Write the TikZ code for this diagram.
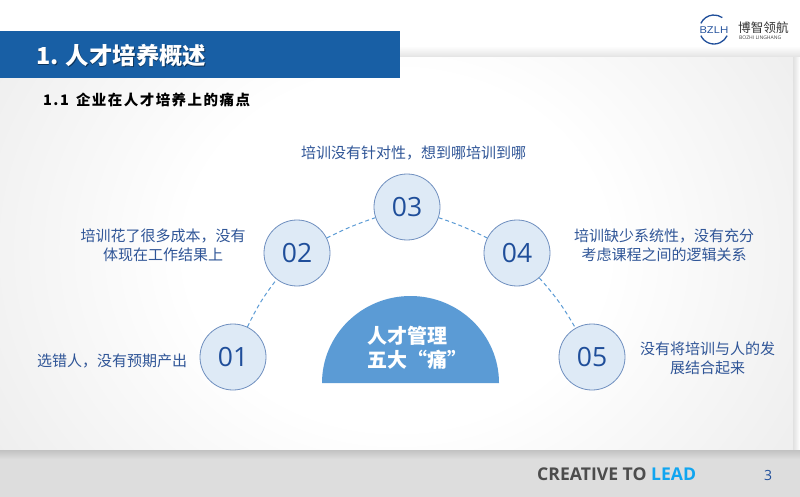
\documentclass[tikz,border=0pt]{standalone}
\usepackage{fontspec}
\setmainfont{Open Sans}
\newfontfamily\cjk{Noto Sans CJK SC}
\newfontfamily\cjkwide[LetterSpace=10]{Noto Sans CJK SC}
\definecolor{bar-blue}{HTML}{185FA5}
\definecolor{dome-blue}{HTML}{5B9BD5}
\definecolor{circle-fill}{HTML}{DEEAF6}
\definecolor{circle-line}{HTML}{6F8FBF}
\definecolor{num-blue}{HTML}{1F4E9A}
\definecolor{text-blue}{HTML}{2F5597}
\definecolor{lead-blue}{HTML}{10A5F0}
\definecolor{foot-gray}{HTML}{DDDDDD}
\pgfdeclareradialshading{panel-glow}{\pgfpointorigin}{color(0bp)=(white); color(12bp)=(white); color(34bp)=(black!10); color(50bp)=(black!12)}
\tikzset{
    num-circle/.style = {draw=circle-line, fill=circle-fill, circle, thick, minimum size=66pt, inner sep=0pt, text=num-blue, font=\fontsize{26.5}{26.5}\selectfont},
    pain-text/.style = {text=text-blue, align=center, inner sep=0pt, font=\cjk\fontsize{15}{19.5}\selectfont},
    arc-link/.style = {draw=dome-blue, line width=1pt, dash pattern=on 4pt off 3pt},
    logo-arc/.style = {draw=num-blue, line width=1.3pt},
}

\begin{document}
\begin{tikzpicture}[x=1pt,y=-1pt]
\useasboundingbox (0,0) rectangle (800,497);
\fill[white] (0,0) rectangle (800,497);
\shade[top color=white, bottom color=black!12] (0,46) rectangle (800,58);
\shade[left color=black!12, right color=white] (793,58) rectangle (800,450);
\begin{scope}
\clip (0,58) rectangle (793,450);
\shade[shading=panel-glow] (-40,-120) rectangle (833,620);
\end{scope}
\fill[foot-gray] (0,450) rectangle (800,497);
\shade[top color=black!24, bottom color=foot-gray] (0,450) rectangle (800,459);

\fill[bar-blue] (0,31) rectangle (400,78);
\node[anchor=west, text=black!45!bar-blue, inner sep=0pt, font=\cjk\bfseries\fontsize{23.4}{23.4}\selectfont] at (36.7,56.2) {1. 人才培养概述};
\node[anchor=west, text=white, inner sep=0pt, font=\cjk\bfseries\fontsize{23.4}{23.4}\selectfont] (title) at (36,55.5) {1. 人才培养概述};
\node[anchor=west, inner sep=0pt, font=\cjkwide\bfseries\fontsize{14.5}{14.5}\selectfont] (subtitle) at (43,100) {1.1 \,企业在人才培养上的痛点};

\fill[dome-blue] (322,383) arc[start angle=180, end angle=0, x radius=88.5, y radius=-87] -- cycle;
\node[anchor=west, text=white, align=left, inner sep=0pt, font=\cjk\bfseries\fontsize{20}{24.5}\selectfont] (dome-text) at (367,348) {人才管理\\五大“痛”};

\node[num-circle] (pain-01) at (233,357) {01};
\node[num-circle] (pain-02) at (297,253) {02};
\node[num-circle] (pain-03) at (407,207) {03};
\node[num-circle] (pain-04) at (517,253) {04};
\node[num-circle] (pain-05) at (592,357) {05};

\draw[arc-link] (pain-01) to[bend left=6] (pain-02);
\draw[arc-link] (pain-02) to[bend left=4] (pain-03);
\draw[arc-link] (pain-03) to[bend left=4] (pain-04);
\draw[arc-link] (pain-04) to[bend left=6] (pain-05);

\node[pain-text] (text-01) at (112,361) {选错人，没有预期产出};
\node[pain-text] (text-02) at (163,245.5) {培训花了很多成本，没有\\体现在工作结果上};
\node[pain-text] (text-03) at (413.5,153) {培训没有针对性，想到哪培训到哪};
\node[pain-text] (text-04) at (664,245.5) {培训缺少系统性，没有充分\\考虑课程之间的逻辑关系};
\node[pain-text] (text-05) at (707.5,358.5) {没有将培训与人的发\\展结合起来};

\draw[logo-arc] (714,29.5) ++(155:14.5pt) arc[start angle=155, end angle=55, radius=14.5pt];
\draw[logo-arc] (714,29.5) ++(205:14.5pt) arc[start angle=205, end angle=335, radius=14.5pt];
\node[text=num-blue, inner sep=0pt, xscale=1.25, font=\fontsize{9.5}{9.5}\selectfont] (logo-mark) at (714,30) {BZLH};
\node[anchor=west, inner sep=0pt, font=\cjk\fontsize{12.6}{12.6}\selectfont, text=black!80] (logo-name) at (738,28) {博智领航};
\node[anchor=west, inner sep=0pt, font=\fontsize{5}{5}\selectfont, text=black!75] (logo-sub) at (739,38) {BOZHI LINGHANG};

\node[anchor=west, inner sep=0pt, text=black!70, font=\bfseries\fontsize{17.6}{17.6}\selectfont] (slogan) at (537,474) {CREATIVE TO \textcolor{lead-blue}{LEAD}};
\node[text=num-blue, inner sep=0pt, font=\fontsize{14}{14}\selectfont] (page-num) at (768,475) {3};
\end{tikzpicture}
\end{document}
